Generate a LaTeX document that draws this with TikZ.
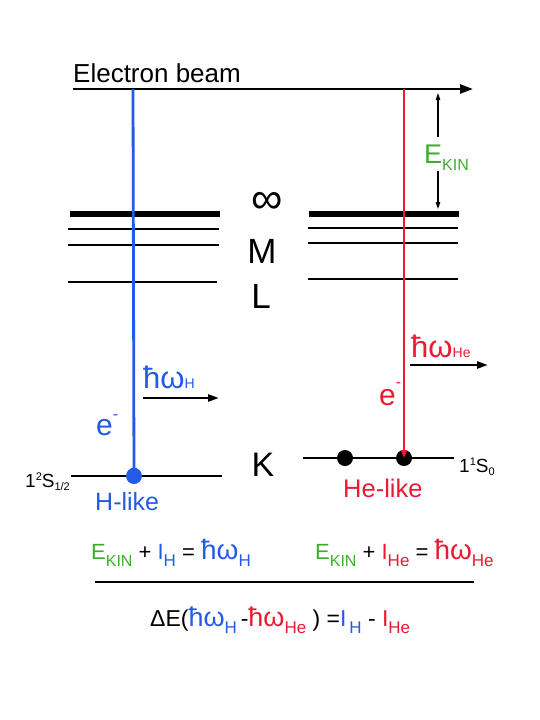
\documentclass[tikz,border=0pt]{standalone}
\usepackage{fontspec}
\setmainfont{Liberation Sans}
\usetikzlibrary{arrows.meta}
\definecolor{hblue}{RGB}{35,90,230}
\definecolor{hered}{RGB}{235,25,50}
\definecolor{kgreen}{RGB}{60,175,40}
\newcommand\fs[1]{\fontsize{#1}{#1}\selectfont}
\newcommand\lsub[2]{\raisebox{-0.32em}{\fs{#1}#2}}
\newcommand\bsub[2]{{\fs{#1}#2}}
\begin{document}
\begin{tikzpicture}[x=1pt,y=-1pt,
  lvl/.style={line width=2pt},
  toplvl/.style={line width=5.5pt},
  beamarrow/.style={line width=2.6pt,-{Triangle[length=13pt,width=9pt]}},
  fall/.style={line width=2.8pt,-{Triangle[length=8pt,width=6pt]}},
  photon/.style={line width=2.4pt,-{Triangle[length=11pt,width=7pt]}},
  ekin/.style={line width=1.1pt,-{Triangle[length=7pt,width=4.5pt]}},
  dotnode/.style={circle,inner sep=0pt,minimum size=16pt,fill=black},
  txt/.style={anchor=base west,inner sep=0pt},
  shell/.style={anchor=center,inner sep=0pt}
]
\useasboundingbox (0,0) rectangle (540,720);

% electron beam
\node[txt,font=\fs{26}] (title) at (73,82) {Electron beam};
\coordinate (bs) at (73,89);
\coordinate (be) at (473,89);
\draw[beamarrow] (bs) -- (be);

% levels left
\draw[toplvl] (70,214) -- (220,214);
\draw[lvl] (68,229) -- (219,229);
\draw[lvl] (68,245) -- (219,245);
\draw[lvl] (68,282) -- (217,282);
\draw[lvl] (71,476) -- (222,476);
% levels right
\draw[toplvl] (309,214) -- (459,214);
\draw[lvl] (308,228) -- (458,228);
\draw[lvl] (308,243) -- (458,243);
\draw[lvl] (308,279) -- (458,279);
\draw[lvl] (303,458) -- (454,458);

% shell labels
\node[shell,font=\fs{44}] (inf) at (267,203) {∞};
\node[shell,font=\fs{35}] (M) at (262,251) {M};
\node[shell,font=\fs{35}] (L) at (261,296) {L};
\node[shell,font=\fs{34}] (K) at (263,465) {K};

% dots
\node[dotnode,fill=hblue] (hdot) at (134,476) {};
\node[dotnode] (hedot1) at (345,458) {};
\node[dotnode] (hedot2) at (404,458) {};

% falling electrons
\coordinate (btop) at (133,89);
\coordinate (rtop) at (404,89);
\draw[fall,hblue] (btop) -- (hdot.center);
\draw[fall,hered] (rtop) -- (hedot2.center);

% E_KIN
\coordinate (ek1) at (438,137);
\coordinate (ek2) at (438,93);
\coordinate (ek3) at (438,171);
\coordinate (ek4) at (438,209);
\draw[ekin] (ek1) -- (ek2);
\draw[ekin] (ek3) -- (ek4);
\node[txt,text=kgreen] (ekinlbl) at (424,163) {\fs{27}E\raisebox{-7pt}{\fs{16}KIN}};

% photons
\node[txt,text=hblue] (phH) at (143,388) {\fs{31}ħω\bsub{14}{H}};
\coordinate (pH1) at (143,398);
\coordinate (pH2) at (219,398);
\draw[photon] (pH1) -- (pH2);
\node[txt,text=hered] (phHe) at (411,357) {\fs{31}ħω\bsub{14}{He}};
\coordinate (pHe1) at (410,365);
\coordinate (pHe2) at (488,365);
\draw[photon] (pHe1) -- (pHe2);

% electrons labels
\node[txt,text=hblue] (eH) at (96,435) {\fs{30}e\raisebox{16pt}{\fs{16}-}};
\node[txt,text=hered] (eHe) at (379,405) {\fs{30}e\raisebox{18pt}{\fs{16}-}};

% state labels
\node[txt] (sH) at (25,487) {\fs{19}1\raisebox{7pt}{\fs{11}2}S\raisebox{-3pt}{\fs{11}1/2}};
\node[txt] (sHe) at (459,472) {\fs{19}1\raisebox{7pt}{\fs{11}1}S\raisebox{-3pt}{\fs{11}0}};
\node[txt,text=hblue,font=\fs{25}] (Hlike) at (95,510) {H-like};
\node[txt,text=hered,font=\fs{25.5}] (Helike) at (343,497) {He-like};

% equations
\node[txt,font=\fs{22}] (eqL) at (91,559)
  {\textcolor{kgreen}{E\lsub{16}{KIN}} + \textcolor{hblue}{I\lsub{17}{H}} = \textcolor{hblue}{{\fs{28}ħω}\lsub{17}{H}}};
\node[txt,font=\fs{22}] (eqR) at (315,559)
  {\textcolor{kgreen}{E\lsub{16}{KIN}} + \textcolor{hered}{I\lsub{17}{He}} = \textcolor{hered}{{\fs{28}ħω}\lsub{17}{He}}};
\coordinate (r1) at (95,582);
\coordinate (r2) at (474,582);
\draw[line width=2.4pt] (r1) -- (r2);
\node[txt,font=\fs{23}] (eqB) at (150,626)
  {ΔE(\textcolor{hblue}{{\fs{27}ħω}\lsub{17}{H}}\,-\textcolor{hered}{{\fs{27}ħω}\lsub{17}{He}}\ ) =\textcolor{hblue}{I\lsub{17}{\,H}} - \textcolor{hered}{I\lsub{17}{He}}};
\end{tikzpicture}
\end{document}
